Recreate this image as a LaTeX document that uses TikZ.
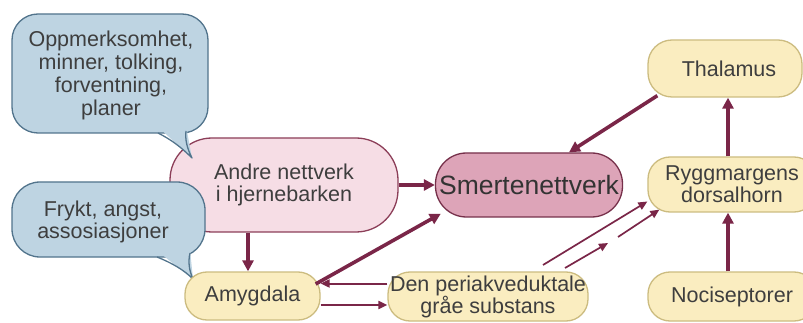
\documentclass[tikz,border=0pt]{standalone}
\usepackage{fontspec}
\setmainfont{Liberation Sans}
\usetikzlibrary{arrows.meta}
\definecolor{arr}{RGB}{122,38,72}
\definecolor{yfill}{RGB}{250,237,192}
\definecolor{ybord}{RGB}{204,188,128}
\definecolor{pfill}{RGB}{246,221,229}
\definecolor{pbord}{RGB}{140,62,88}
\definecolor{sfill}{RGB}{221,164,184}
\definecolor{sbord}{RGB}{118,48,74}
\definecolor{bfill}{RGB}{190,212,226}
\definecolor{bbord}{RGB}{82,116,140}
\definecolor{txt}{RGB}{62,62,62}
\tikzset{
  lbl/.style={inner sep=0pt, align=center, text=txt, font=\fontsize{21.5}{22}\selectfont},
  ybox/.style={lbl, rectangle, draw=ybord, fill=yfill, line width=1.3pt, rounded corners=22},
  bigarrow/.style={draw=arr, line width=3.6pt, -{Triangle[length=11pt,width=11pt]}},
  thinarrow/.style={draw=arr, line width=1.7pt, -{Triangle[length=9pt,width=8pt]}},
  bubble/.style={fill=bfill, draw=bbord, line width=1.3pt},
}
\begin{document}
\begin{tikzpicture}[x=1pt,y=-1pt]
\useasboundingbox (0,0) rectangle (803,323);
\clip (0,0) rectangle (803,323);
\fill[white] (0,0) rectangle (803,323);

% pink cortex box
\node[lbl, draw=pbord, fill=pfill, line width=1.3pt, rounded corners=42,
      minimum width=228pt, minimum height=94pt] (andre) at (284,185)
      {Andre nettverk\\ i hjernebarken};

% bubble 1
\draw[bubble, rounded corners=26] (12,14) rectangle (208,133);
\fill[bfill] (157,126) -- (192,158) -- (186,126) -- cycle;
\draw[bbord, line width=1.3pt, line join=round] (158,133) .. controls (172,140) and (182,148) .. (192,158) .. controls (187,148) and (185,140) .. (186,131);
\node[lbl, font=\fontsize{21.5}{23}\selectfont] (b1) at (111,75) {Oppmerksomhet,\\ minner, tolking,\\ forventning,\\ planer};

% bubble 2
\draw[bubble, rounded corners=28] (12,182) rectangle (205,257);
\fill[bfill] (156,250) -- (193,279) -- (190,250) -- cycle;
\draw[bbord, line width=1.3pt, line join=round] (157,257) .. controls (172,263) and (184,270) .. (193,279) .. controls (189,270) and (188,262) .. (190,253);
\node[lbl] (b2) at (103,222) {Frykt, angst,\\ assosiasjoner};

% other boxes
\node[lbl, draw=sbord, fill=sfill, line width=1.3pt, rounded corners=31,
      minimum width=187pt, minimum height=64pt, text=black!80,
      font=\fontsize{26.5}{27}\selectfont] (smerte) at (529,185) {Smertenettverk};
\node[ybox, minimum width=135pt, minimum height=48pt] (amy) at (252.5,296) {Amygdala};
\node[ybox, minimum width=200pt, minimum height=49pt] (pag) at (488,296.5) {Den periakveduktale\\ gråe substans};
\node[ybox, minimum width=168pt, minimum height=49pt] (noci) at (732,296.5) {Nociseptorer};
\node[ybox, minimum width=168pt, minimum height=55pt] (rygg) at (732,184.5) {Ryggmargens\\ dorsalhorn};
\node[ybox, minimum width=154pt, minimum height=57pt, rounded corners=24] (thal) at (725,68.5) {\hspace*{8pt}Thalamus};

% thick arrows
\draw[bigarrow] (andre.east) -- (smerte.west);
\draw[bigarrow] ([xshift=-36pt]andre.south) -- ([xshift=-36pt]andre.south |- amy.north);
\draw[bigarrow] ([xshift=-5pt,yshift=12pt]amy.east) -- ([xshift=6pt,yshift=4pt]smerte.south west);
\draw[bigarrow] ([xshift=10pt,yshift=2pt]thal.south west) -- ([xshift=40pt]smerte.north);
\draw[bigarrow] ([xshift=-4pt]rygg.north) -- ([xshift=-4pt]rygg.north |- thal.south);
\draw[bigarrow] ([xshift=-4pt]noci.north) -- ([xshift=-4pt]rygg.south);

% amygdala <-> PAG
\draw[thinarrow, line width=2pt] ([yshift=13pt]pag.west) -- ([yshift=13pt]pag.west -| amy.east);
\draw[thinarrow, line width=2pt] ([yshift=-9pt]amy.east) -- ([yshift=-9pt]amy.east -| pag.west);

% PAG -> dorsal horn
\coordinate (c1) at (543,265);
\coordinate (c2) at (565,268);
\coordinate (c3) at (608,243);
\coordinate (c4) at (618,237);
\draw[thinarrow] (c1) -- ([yshift=-17pt]rygg.west);
\draw[thinarrow] (c2) -- (c3);
\draw[thinarrow] (c4) -- ([xshift=12pt,yshift=3pt]rygg.south west);
\end{tikzpicture}
\end{document}
